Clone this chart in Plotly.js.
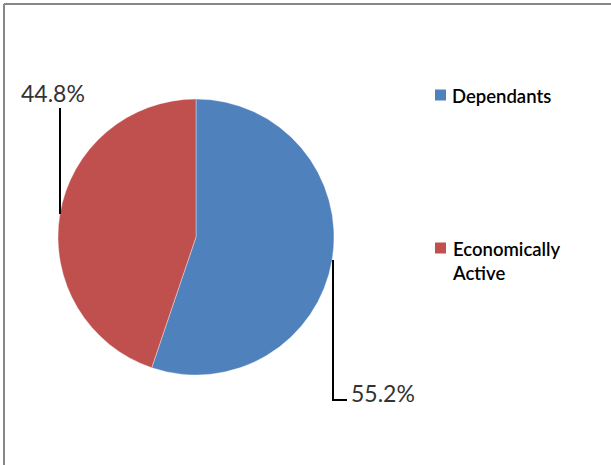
<!DOCTYPE html>
<html>
<head>
<meta charset="utf-8">
<script src="https://cdn.plot.ly/plotly-3.0.1.min.js"></script>
<style>
  html, body { margin: 0; padding: 0; background: #fff; }
  #chart { width: 611px; height: 465px; }
</style>
</head>
<body>
<div id="chart"></div>
<script>
// ---- data ----
const labels = ["Dependants", "Economically Active"];
const legendLabels = ["Dependants", "Economically<br>Active"];
const values = [55.2, 44.8];
const colors = ["#4F81BD", "#C0504D"];

// ---- helpers: pixel -> paper coords ----
const W = 611, H = 465;
const px = x => x / W;
const py = y => 1 - y / H;

const total = values.reduce((a, b) => a + b, 0);
const pct = values.map(v => (v / total * 100).toFixed(1) + "%");

const trace = {
  type: "pie",
  labels: labels,
  values: values,
  sort: false,
  direction: "clockwise",
  rotation: 0,
  marker: { colors: colors, line: { color: "rgba(255,255,255,0.6)", width: 0.6 } },
  textinfo: "none",
  hoverinfo: "label+percent",
  showlegend: false,
  domain: { x: [px(58), px(334)], y: [py(375), py(99)] }
};

const lineStyle = { color: "#000000", width: 2 };
const shapes = [
  // chart frame (top and left edges visible)
  { type: "line", xref: "paper", yref: "paper", x0: px(4), y0: py(4), x1: px(611), y1: py(4), line: { color: "#888888", width: 2 } },
  { type: "line", xref: "paper", yref: "paper", x0: px(4), y0: py(4), x1: px(4), y1: py(465), line: { color: "#888888", width: 2 } },
  // leader lines
  { type: "line", xref: "paper", yref: "paper", x0: px(60), y0: py(214), x1: px(60), y1: py(108), line: lineStyle },
  { type: "path", xref: "paper", yref: "paper",
    path: `M ${px(333)} ${py(260)} L ${px(333)} ${py(400)} L ${px(347)} ${py(400)}`, line: lineStyle }
];

// legend squares
const legendY = [95, 248];
legendY.forEach((y, i) => {
  shapes.push({ type: "rect", xref: "paper", yref: "paper",
    x0: px(435), x1: px(446), y0: py(y + 5.5), y1: py(y - 5.5),
    fillcolor: colors[i], line: { width: 0 } });
});

const annotations = [
  { xref: "paper", yref: "paper", x: px(19), y: py(93), xanchor: "left", yanchor: "middle",
    text: pct[1], showarrow: false, font: { family: "Lato, sans-serif", size: 23, color: "#333333" } },
  { xref: "paper", yref: "paper", x: px(349), y: py(393), xanchor: "left", yanchor: "middle",
    text: pct[0], showarrow: false, font: { family: "Lato, sans-serif", size: 23, color: "#333333" } }
];
legendY.forEach((y, i) => {
  annotations.push({ xref: "paper", yref: "paper", x: px(450), y: py(y - 12), xanchor: "left", yanchor: "top",
    text: legendLabels[i], showarrow: false, align: "left",
    font: { family: "Lato, sans-serif", size: 18.5, color: "#000000", weight: 600 } });
});

const layout = {
  width: W, height: H,
  margin: { l: 0, r: 0, t: 0, b: 0 },
  paper_bgcolor: "#ffffff",
  showlegend: false,
  shapes: shapes,
  annotations: annotations
};

Plotly.newPlot("chart", [trace], layout, { displayModeBar: false, staticPlot: true });
</script>
</body>
</html>
